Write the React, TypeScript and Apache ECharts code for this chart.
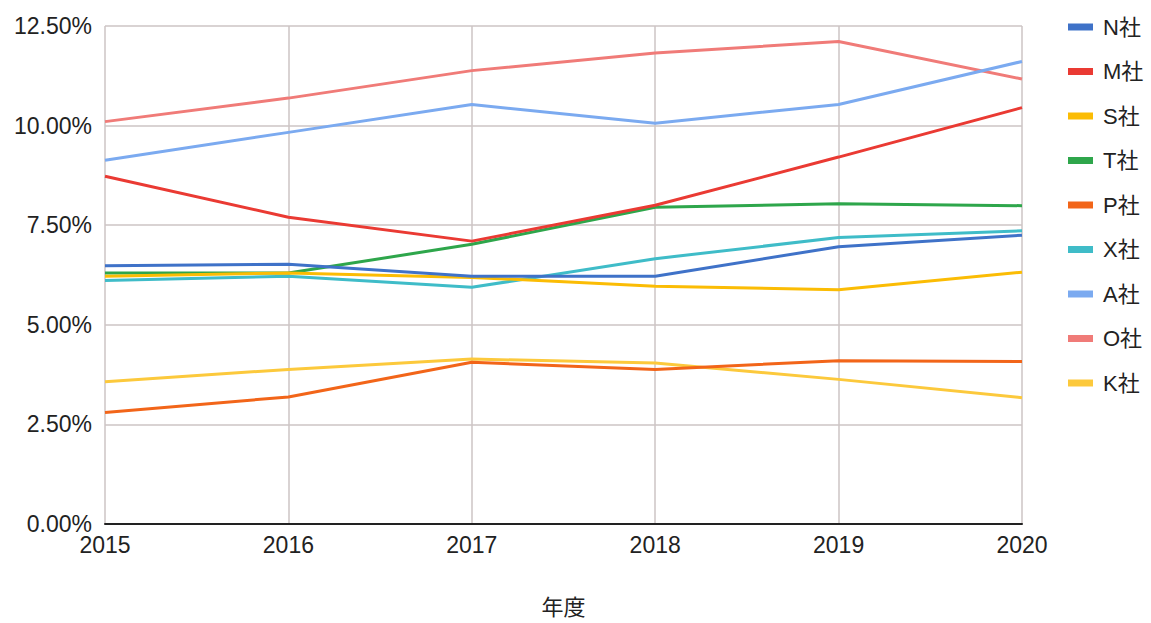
import React, { useEffect, useRef } from "react";
import * as echarts from "echarts";

const years = ["2015", "2016", "2017", "2018", "2019", "2020"];
const seriesNames = ["N社", "M社", "S社", "T社", "P社", "X社", "A社", "O社", "K社"];
const colors = ["#3f72c8", "#ea3a33", "#fbbc04", "#2ea64b", "#f26519", "#3fbcc8", "#7baaf0", "#f07b78", "#fcc93c"];
const nValues = [6.48, 6.52, 6.22, 6.22, 6.96, 7.25];
const mValues = [8.73, 7.7, 7.1, 8.0, 9.21, 10.45];
const sValues = [6.22, 6.3, 6.19, 5.97, 5.88, 6.32];
const tValues = [6.3, 6.3, 7.02, 7.95, 8.04, 7.99];
const pValues = [2.8, 3.19, 4.06, 3.88, 4.1, 4.08];
const xValues = [6.11, 6.22, 5.94, 6.66, 7.19, 7.36];
const aValues = [9.13, 9.83, 10.53, 10.06, 10.53, 11.61];
const oValues = [10.1, 10.69, 11.38, 11.82, 12.11, 11.17];
const kValues = [3.57, 3.88, 4.14, 4.04, 3.63, 3.17];
const allValues = [nValues, mValues, sValues, tValues, pValues, xValues, aValues, oValues, kValues];

const FONT = "'Liberation Sans', Arial, 'Noto Sans CJK JP', sans-serif";
const TEXT = "#222";

export default function App() {
  const ref = useRef<HTMLDivElement>(null);
  useEffect(() => {
    if (!ref.current) return;
    const chart = echarts.init(ref.current, undefined, { renderer: "svg" });
    chart.setOption({
      animation: false,
      backgroundColor: "#ffffff",
      color: colors,
      textStyle: { fontFamily: FONT },
      grid: { left: 105, right: 129, top: 26, bottom: 82, containLabel: false },
      legend: {
        orient: "vertical",
        left: 1063,
        top: 10,
        icon: "rect",
        itemWidth: 25,
        itemHeight: 7,
        itemGap: 20.5,
        textStyle: { fontSize: 22, color: TEXT, fontFamily: FONT, lineHeight: 24, padding: [0, 0, 0, 5] },
        data: seriesNames,
      },
      xAxis: {
        type: "category",
        data: years,
        boundaryGap: false,
        name: "年度",
        nameLocation: "middle",
        nameGap: 72,
        nameTextStyle: { fontSize: 22, color: TEXT, fontFamily: FONT },
        axisLine: { show: true, lineStyle: { color: "#222", width: 2 } },
        axisTick: { show: false },
        axisLabel: { fontSize: 23, color: TEXT, margin: 10, fontFamily: FONT },
        splitLine: { show: true, lineStyle: { color: "#cdc4c4", width: 1.5 } },
      },
      yAxis: {
        type: "value",
        min: 0,
        max: 12.5,
        interval: 2.5,
        axisLine: { show: false },
        axisTick: { show: false },
        axisLabel: {
          fontSize: 23,
          color: TEXT,
          margin: 13,
          fontFamily: FONT,
          formatter: (v: number) => v.toFixed(2) + "%",
        },
        splitLine: { show: true, lineStyle: { color: "#cdc4c4", width: 1.5 } },
      },
      series: seriesNames.map((name, i) => ({
        name,
        type: "line",
        data: allValues[i],
        showSymbol: false,
        symbol: "none",
        lineStyle: { width: 3 },
        z: 10 - i,
      })),
    });
    return () => chart.dispose();
  }, []);
  return (
    <div
      ref={ref}
      style={{ position: "fixed", left: 0, top: 0, width: 1151, height: 623, background: "#fff" }}
    />
  );
}
